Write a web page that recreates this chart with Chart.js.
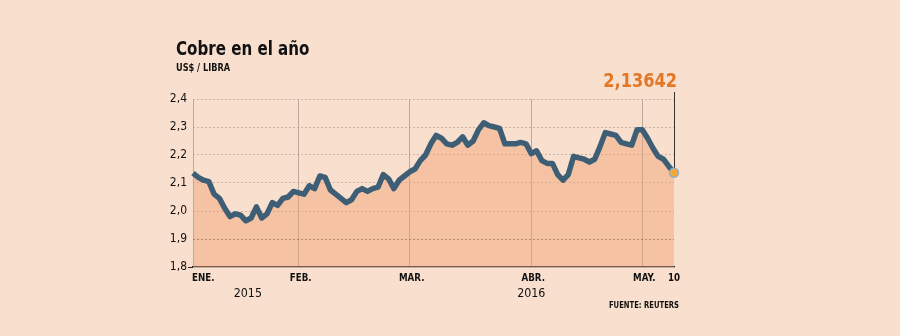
<!DOCTYPE html>
<html>
<head>
<meta charset="utf-8">
<script src="https://cdn.jsdelivr.net/npm/chart.js@4.4.1/dist/chart.umd.min.js"></script>
<style>
  html, body { margin: 0; background: #f9dfcd; }
  canvas { display: block; }
</style>
</head>
<body>
<canvas id="chart" width="900" height="336"></canvas>
<script>
// trading days, Jan 4 - May 10
const daysEne = [4,5,6,7,8,11,12,13,14,15,18,19,20,21,22,25,26,27,28,29];
const daysFeb = [1,2,3,4,5,8,9,10,11,12,15,16,17,18,19,22,23,24,25,26,29];
const daysMar = [1,2,3,4,7,8,9,10,11,14,15,16,17,18,21,22,23,24,25,28,29,30,31];
const daysAbr = [1,4,5,6,7,8,11,12,13,14,15,18,19,20,21,22,25,26,27,28,29];
const daysMay = [2,3,4,5,6,9,10];

const monthNames = ['ENE.', 'FEB.', 'MAR.', 'ABR.', 'MAY.'];
const yearLabels = [{ text: '2015', month: 0 }, { text: '2016', month: 3 }];

// US$ / libra
const precio = [
  2.135, 2.12, 2.11, 2.105, 2.06, 2.045, 2.01, 1.98, 1.99, 1.985,
  1.965, 1.975, 2.015, 1.975, 1.99, 2.03, 2.02, 2.045, 2.05, 2.07,
  2.065, 2.06, 2.09, 2.08, 2.125, 2.12, 2.075, 2.06, 2.045, 2.03,
  2.04, 2.07, 2.08, 2.07, 2.08, 2.085, 2.13, 2.115, 2.08, 2.11,
  2.125, 2.14, 2.15, 2.18, 2.2, 2.24, 2.27, 2.26, 2.24, 2.235,
  2.245, 2.265, 2.235, 2.25, 2.29, 2.315, 2.305, 2.3, 2.295, 2.24,
  2.24, 2.24, 2.245, 2.24, 2.205, 2.215, 2.18, 2.17, 2.17, 2.13,
  2.11, 2.13, 2.195, 2.19, 2.185, 2.175, 2.185, 2.23, 2.28, 2.275,
  2.27, 2.245, 2.24, 2.235, 2.29, 2.29, 2.26, 2.225, 2.195, 2.185,
  2.16, 2.13642
];
const ultimo = '2,13642';

const fechas = [];
const inicioMes = [];
[daysEne, daysFeb, daysMar, daysAbr, daysMay].forEach((dias, m) => {
  inicioMes.push(fechas.length);
  dias.forEach(d => fechas.push(d + '/' + (m + 1)));
});

const COND = "'DejaVu Sans Condensed', 'DejaVu Sans', sans-serif";

// text squeezed horizontally to get the narrow newspaper look
function texto(ctx, txt, x, y, font, align, sx) {
  ctx.save();
  ctx.font = font;
  ctx.textAlign = align;
  ctx.translate(x, y);
  ctx.scale(sx, 1);
  ctx.fillText(txt, 0, 0);
  ctx.restore();
}

const bgPlugin = {
  id: 'bg',
  beforeDraw(chart) {
    const ctx = chart.ctx;
    ctx.save();
    ctx.fillStyle = '#f9dfcd';
    ctx.fillRect(0, 0, chart.width, chart.height);
    ctx.restore();
  }
};

const textPlugin = {
  id: 'texts',
  afterDraw(chart) {
    const ctx = chart.ctx;
    const x = chart.scales.x;
    const bottom = chart.chartArea.bottom;
    ctx.save();
    ctx.fillStyle = '#111';
    ctx.textBaseline = 'alphabetic';

    texto(ctx, 'Cobre en el año', 176, 55, "bold 19.5px " + COND, 'left', 0.86);
    texto(ctx, 'US$ / LIBRA', 176, 71, "bold 10px " + COND, 'left', 0.91);

    // month labels
    const fm = "bold 10.5px " + COND;
    monthNames.forEach((name, m) => {
      const px = x.getPixelForValue(inicioMes[m]);
      if (m === 0) texto(ctx, name, px - 1, bottom + 14, fm, 'left', 0.92);
      else texto(ctx, name, px + 2, bottom + 14, fm, 'center', 0.92);
    });
    texto(ctx, String(daysMay[daysMay.length - 1]), x.getPixelForValue(fechas.length - 1), bottom + 14, fm, 'center', 0.92);

    yearLabels.forEach(y => {
      const a = x.getPixelForValue(inicioMes[y.month]);
      const px = y.month === 0 ? (a + x.getPixelForValue(inicioMes[1])) / 2 + 2 : a;
      texto(ctx, y.text, px, bottom + 30, "13px " + COND, 'center', 0.95);
    });

    texto(ctx, 'FUENTE: REUTERS', 679, bottom + 41, "bold 9.5px " + COND, 'right', 0.8);

    // last value
    const meta = chart.getDatasetMeta(0);
    const pt = meta.data[meta.data.length - 1];
    ctx.strokeStyle = '#333';
    ctx.lineWidth = 1;
    ctx.beginPath();
    ctx.moveTo(pt.x + 0.5, pt.y - 5);
    ctx.lineTo(pt.x + 0.5, 92);
    ctx.stroke();
    ctx.fillStyle = '#e27827';
    texto(ctx, ultimo, pt.x + 3, 87, "bold 20px " + COND, 'right', 0.9);
    ctx.restore();
  }
};

new Chart(document.getElementById('chart'), {
  type: 'line',
  data: {
    labels: fechas,
    datasets: [{
      data: precio,
      borderColor: '#3e5e76',
      borderWidth: 5.5,
      fill: 'start',
      backgroundColor: 'rgba(240,160,115,0.45)',
      tension: 0,
      borderJoinStyle: 'round',
      pointRadius: ctx => ctx.dataIndex === precio.length - 1 ? 4.5 : 0,
      pointBackgroundColor: '#f2a93a',
      pointBorderColor: '#8fb0ca',
      pointBorderWidth: 1.5
    }]
  },
  plugins: [bgPlugin, textPlugin],
  options: {
    responsive: false,
    animation: false,
    devicePixelRatio: 1,
    layout: { padding: { left: 150, right: 226, top: 99, bottom: 69 } },
    plugins: { legend: { display: false }, tooltip: { enabled: false } },
    scales: {
      x: {
        offset: false,
        afterFit: s => { s.height = 0; },
        ticks: { display: false },
        grid: {
          drawTicks: false,
          color: ctx => inicioMes.includes(ctx.index) ? 'rgba(125,115,105,0.5)' : 'transparent',
          lineWidth: 1
        },
        border: { display: true, color: '#222', width: 1.2 }
      },
      y: {
        min: 1.8,
        max: 2.4,
        afterFit: s => { s.width = 43; },
        ticks: {
          stepSize: 0.1,
          padding: 1,
          color: '#111',
          font: { family: COND, size: 12 },
          callback: v => v.toFixed(1).replace('.', ',')
        },
        grid: {
          drawTicks: true,
          tickLength: 5,
          tickColor: ctx => Math.abs(ctx.tick.value - 1.8) < 1e-6 ? '#222' : 'transparent',
          color: ctx => {
            const v = ctx.tick.value;
            if (Math.abs(v - 1.8) < 1e-6) return 'transparent';
            if (Math.abs(v - 1.9) < 1e-6) return 'rgba(90,80,75,0.75)';
            return 'rgba(180,155,140,0.65)';
          },
          lineWidth: 1
        },
        border: { display: false, dash: [2, 2] }
      }
    }
  }
});
</script>
</body>
</html>
